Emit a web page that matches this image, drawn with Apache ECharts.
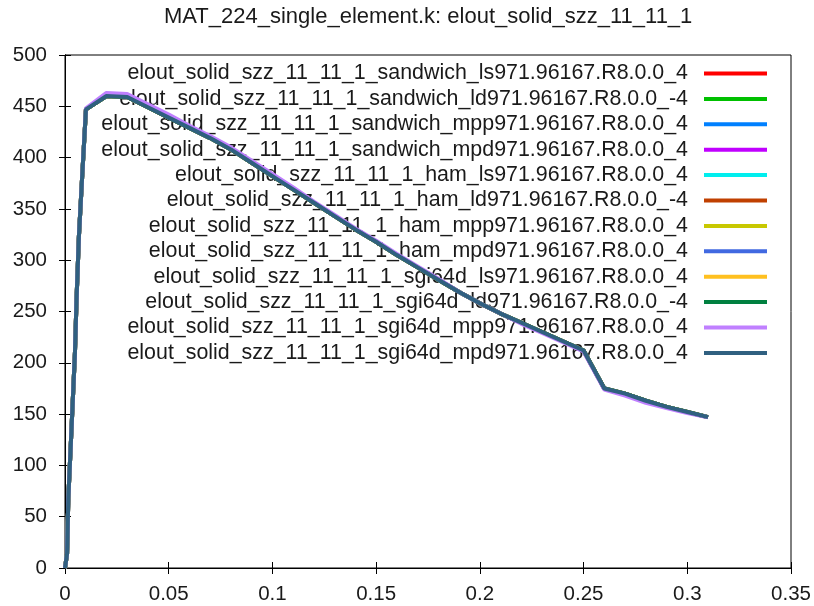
<!DOCTYPE html>
<html>
<head>
<meta charset="utf-8">
<script src="https://cdn.jsdelivr.net/npm/echarts@6/dist/echarts.min.js"></script>
<style>html,body{margin:0;padding:0;background:#fff}#c{width:814px;height:606px}</style>
</head>
<body>
<div id="c"></div>
<script>
var titleText = 'MAT_224_single_element.k: elout_solid_szz_11_11_1';
var seriesNames = [
  'elout_solid_szz_11_11_1_sandwich_ls971.96167.R8.0.0_4',
  'elout_solid_szz_11_11_1_sandwich_ld971.96167.R8.0.0_-4',
  'elout_solid_szz_11_11_1_sandwich_mpp971.96167.R8.0.0_4',
  'elout_solid_szz_11_11_1_sandwich_mpd971.96167.R8.0.0_4',
  'elout_solid_szz_11_11_1_ham_ls971.96167.R8.0.0_4',
  'elout_solid_szz_11_11_1_ham_ld971.96167.R8.0.0_-4',
  'elout_solid_szz_11_11_1_ham_mpp971.96167.R8.0.0_4',
  'elout_solid_szz_11_11_1_ham_mpd971.96167.R8.0.0_4',
  'elout_solid_szz_11_11_1_sgi64d_ls971.96167.R8.0.0_4',
  'elout_solid_szz_11_11_1_sgi64d_ld971.96167.R8.0.0_-4',
  'elout_solid_szz_11_11_1_sgi64d_mpp971.96167.R8.0.0_4',
  'elout_solid_szz_11_11_1_sgi64d_mpd971.96167.R8.0.0_4'
];
var seriesColors = ['#ff0000','#00c000','#0080ff','#c000ff','#00eeee','#c04000',
                    '#c8c800','#4169e1','#ffc020','#008040','#c080ff','#306080'];
// x and szz stress values, common curve
var baseCurve = [
  [0,0],[0.001,14],[0.0016,68],[0.0029,125],[0.0048,210],
  [0.0056,264],[0.0067,323],[0.0081,375],[0.0101,447],
  [0.02,460],[0.03,459],[0.04,449],[0.05,439],[0.06,429],[0.07,419],[0.08,408],
  [0.09,395],[0.10,382],[0.11,369],[0.12,356],[0.13,343],[0.14,330],[0.15,318],
  [0.16,305],[0.17,293],[0.18,281],[0.19,269],[0.20,258],[0.21,248],[0.22,239],
  [0.23,230],[0.24,221],[0.25,212],[0.26,175],[0.27,170],[0.28,163],[0.29,157],
  [0.30,152],[0.31,147]
];
// sgi64d_mpp curve (slightly different)
var mppCurve = [
  [0,0],[0.001,14],[0.0016,68],[0.0029,125],[0.0048,210],
  [0.0056,264],[0.0067,323],[0.0081,375],[0.0101,448],
  [0.02,463],[0.03,462],[0.04,452],[0.05,442],[0.06,431],[0.07,421],[0.08,410],
  [0.09,397],[0.10,384],[0.11,371],[0.12,357],[0.13,344],[0.14,331],[0.15,319],
  [0.16,306],[0.17,294],[0.18,282],[0.19,269],[0.20,258],[0.21,248],[0.22,238],
  [0.23,229],[0.24,220],[0.25,211],[0.26,174],[0.27,168],[0.28,161],[0.29,156],
  [0.30,151],[0.31,147]
];
var seriesData = [baseCurve, baseCurve, baseCurve, baseCurve, baseCurve, baseCurve,
                  baseCurve, baseCurve, baseCurve, baseCurve, mppCurve, baseCurve];
var xTicks = {min: 0, max: 0.35, interval: 0.05};
var yTicks = {min: 0, max: 500, interval: 50};

var FONT = 'Liberation Sans';
var chart = echarts.init(document.getElementById('c'), null, {renderer: 'canvas'});
var series = seriesNames.map(function (n, i) {
  return {
    name: n, type: 'line', data: seriesData[i], showSymbol: false, symbol: 'none',
    lineStyle: {color: seriesColors[i], width: 4}, itemStyle: {color: seriesColors[i]},
    animation: false, z: 2 + i
  };
});
var tickLabelStyle = {color: '#1a1a1a', fontFamily: FONT, fontSize: 20.5};
chart.setOption({
  backgroundColor: '#fff',
  animation: false,
  title: {
    text: titleText, left: 164, top: 6, padding: 0,
    textStyle: {fontFamily: FONT, fontSize: 22, fontWeight: 'normal', color: '#1a1a1a'}
  },
  grid: {left: 65, right: 23, top: 55, bottom: 38, show: true, borderColor: '#000', borderWidth: 1,
         containLabel: false, outerBoundsMode: 'none'},
  legend: {
    orient: 'vertical', align: 'right', right: 47, top: 63, padding: 0,
    itemWidth: 63, itemHeight: 4, itemGap: 4.4, icon: 'rect',
    data: seriesNames.map(function (n) { return {name: n, icon: 'rect'}; }),
    textStyle: {fontFamily: FONT, fontSize: 21.4, color: '#1a1a1a', lineHeight: 21, padding: [0, 11, 0, 0]},
    selectedMode: false
  },
  xAxis: [{
    type: 'value', min: xTicks.min, max: xTicks.max, interval: xTicks.interval, position: 'bottom',
    axisLine: {show: true, lineStyle: {color: '#000', width: 1}},
    axisTick: {show: true, inside: true, length: 6, lineStyle: {color: '#000'}},
    axisLabel: Object.assign({margin: 16}, tickLabelStyle),
    splitLine: {show: false}
  }, {
    type: 'value', min: xTicks.min, max: xTicks.max, interval: xTicks.interval, position: 'top',
    axisLine: {show: true, lineStyle: {color: '#000', width: 1}},
    axisTick: {show: true, inside: true, length: 6, lineStyle: {color: '#000'}},
    axisLabel: {show: false}, splitLine: {show: false}
  }],
  yAxis: [{
    type: 'value', min: yTicks.min, max: yTicks.max, interval: yTicks.interval, position: 'left',
    axisLine: {show: true, lineStyle: {color: '#000', width: 1}},
    axisTick: {show: true, inside: true, length: 6, lineStyle: {color: '#000'}},
    axisLabel: Object.assign({margin: 18}, tickLabelStyle),
    splitLine: {show: false}
  }, {
    type: 'value', min: yTicks.min, max: yTicks.max, interval: yTicks.interval, position: 'right',
    axisLine: {show: true, lineStyle: {color: '#000', width: 1}},
    axisTick: {show: true, inside: true, length: 6, lineStyle: {color: '#000'}},
    axisLabel: {show: false}, splitLine: {show: false}
  }],
  series: series
});
</script>
</body>
</html>
